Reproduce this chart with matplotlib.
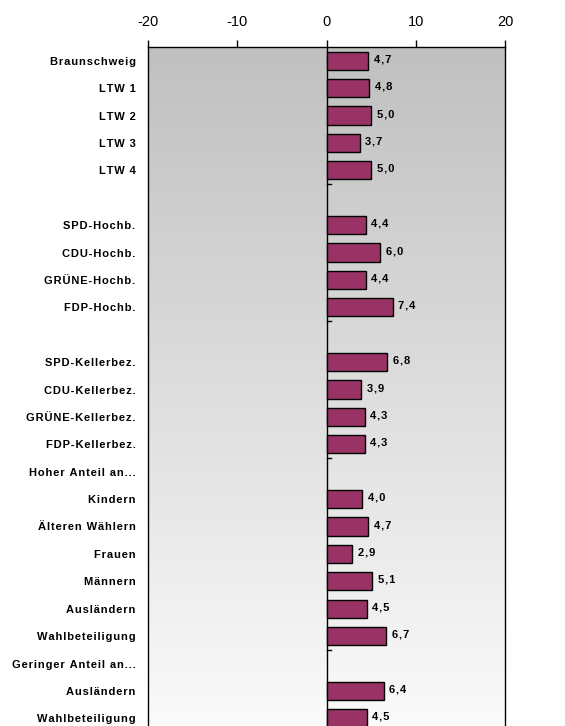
import numpy as np
import matplotlib
matplotlib.use("Agg")
import matplotlib.pyplot as plt

plt.rcParams['font.family'] = ['Liberation Sans', 'DejaVu Sans']

labels = ['Braunschweig', 'LTW 1', 'LTW 2', 'LTW 3', 'LTW 4', '',
          'SPD-Hochb.', 'CDU-Hochb.', 'GRÜNE-Hochb.', 'FDP-Hochb.', '',
          'SPD-Kellerbez.', 'CDU-Kellerbez.', 'GRÜNE-Kellerbez.', 'FDP-Kellerbez.',
          'Hoher Anteil an...', 'Kindern', 'Älteren Wählern', 'Frauen', 'Männern',
          'Ausländern', 'Wahlbeteiligung', 'Geringer Anteil an...',
          'Ausländern', 'Wahlbeteiligung']
values = [4.7, 4.8, 5.0, 3.7, 5.0, None,
          4.4, 6.0, 4.4, 7.4, None,
          6.8, 3.9, 4.3, 4.3,
          None, 4.0, 4.7, 2.9, 5.1,
          4.5, 6.7, None,
          6.4, 4.5]
xticks = [-20, -10, 0, 10, 20]


def spaced(s):
    # emulate the wide letter spacing of the original
    return '\u200a'.join(s)


def main():
    W, H = 565, 726
    fig = plt.figure(figsize=(W / 100, H / 100), dpi=100)
    n = len(labels)
    row_px = 27.4
    top_px = 47
    left_px, right_px = 148, 505
    h_px = n * row_px
    ax = fig.add_axes([left_px / W, (H - top_px - h_px) / H,
                       (right_px - left_px) / W, h_px / H])

    ax.set_xlim(-20, 20)
    ax.set_ylim(n - 0.5, -0.5)

    # vertical gradient background
    grad = np.linspace(0, 1, 256).reshape(-1, 1)
    cmap = matplotlib.colors.LinearSegmentedColormap.from_list('bg', ['#c0c0c0', '#fbfbfb'])
    ax.imshow(grad, cmap=cmap, aspect='auto', extent=[-20, 20, n - 0.5, -0.5], zorder=0)

    ys = [i for i, v in enumerate(values) if v is not None]
    vs = [v for v in values if v is not None]
    ax.barh(ys, vs, height=0.67, color='#993366', edgecolor='black', linewidth=1.0, zorder=3)
    for y, v in zip(ys, vs):
        ax.annotate(spaced(f'{v:.1f}'.replace('.', ',')), (v, y), xytext=(4, 1),
                    textcoords='offset points', va='center', ha='left',
                    fontsize=8, fontweight='bold', zorder=4)

    ax.axvline(0, color='black', linewidth=1.0, zorder=2)
    # small ticks on the category axis above empty rows
    for i, v in enumerate(values):
        if v is None:
            ax.plot([0, 0.45], [i - 0.5, i - 0.5], color='black', linewidth=1.0, zorder=2)

    ax.set_yticks(range(n))
    ax.set_yticklabels([spaced(l) for l in labels], fontsize=8, fontweight='bold')
    ax.tick_params(axis='y', length=0, pad=9)

    ax.xaxis.tick_top()
    ax.set_xticks(xticks)
    ax.set_xticklabels([str(t) for t in xticks], fontsize=10.5)
    ax.tick_params(axis='x', direction='out', length=5, width=1, pad=8)

    for side in ['left', 'right', 'top']:
        ax.spines[side].set_color('black')
        ax.spines[side].set_linewidth(1.0)
    ax.spines['bottom'].set_visible(False)

    fig.savefig('out.png', dpi=100)


if __name__ == "__main__":
    main()
